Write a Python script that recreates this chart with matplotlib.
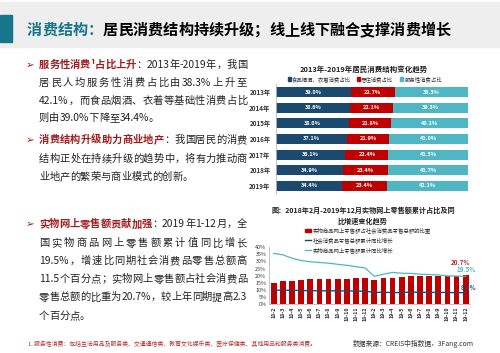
import re
import matplotlib
matplotlib.use("Agg")
import matplotlib.pyplot as plt
from matplotlib.patches import Rectangle
from matplotlib.lines import Line2D

plt.rcParams['font.family'] = ['Noto Sans CJK SC', 'DejaVu Sans']

# top chart data
years = ["2013年", "2014年", "2015年", "2016年", "2017年", "2018年", "2019年"]
food_share = [39.0, 38.6, 38.0, 37.1, 36.1, 34.9, 34.4]
housing_share = [22.7, 22.1, 21.8, 21.9, 22.4, 23.4, 23.4]
service_share = [38.3, 39.3, 40.2, 41.0, 41.5, 41.7, 42.1]
top_names = ["食品烟酒、衣着消费占比", "居住消费占比", "服务性消费占比"]

# bottom chart data
months = ["18-2", "18-3", "18-4", "18-5", "18-6", "18-7", "18-8", "18-9", "18-10",
          "18-11", "18-12", "19-2", "19-3", "19-4", "19-5", "19-6", "19-7", "19-8",
          "19-9", "19-10", "19-11", "19-12"]
online_share = [15.0, 16.0, 16.2, 16.7, 17.3, 17.3, 17.4, 17.5, 17.5, 18.0, 18.4,
                16.6, 18.0, 18.6, 18.8, 19.6, 19.5, 19.5, 19.7, 19.8, 19.9, 20.7]
retail_growth = [9.7, 9.8, 9.7, 9.5, 9.4, 9.3, 9.3, 9.3, 9.2, 9.1, 9.0,
                 8.2, 8.3, 8.0, 8.1, 8.4, 8.3, 8.2, 8.2, 8.1, 8.0, 8.0]
online_growth = [35.7, 34.7, 32.3, 30.7, 29.8, 29.3, 28.8, 28.0, 27.3, 26.3, 25.4,
                 19.5, 21.0, 22.3, 21.7, 21.6, 21.0, 20.8, 20.5, 19.8, 19.7, 19.5]
bottom_names = ["实物商品网上零售额占社会消费品零售总额的比重",
                "社会消费品零售总额累计同比增长",
                "实物商品网上零售额累计同比增长"]

W, H = 500, 353
dark_blue = "#1c4a6e"
red = "#c00000"
teal = "#4fb6c4"
dark_red = "#a01c1e"
txt = "#222222"

fig = plt.figure(figsize=(W / 100, H / 100), dpi=100)
renderer = fig.canvas.get_renderer()


def fx(x):
    return x / W


def fy(y):
    return 1 - y / H


def draw_line(segments, x0, x1, y, size, justify=True):
    toks = []
    for s, color, weight in segments:
        for piece in re.findall(r'[\x21-\x7e]+|.', s):
            toks.append((piece, color, weight))
    arts = [fig.text(0, fy(y), t, fontsize=size, color=c, fontweight=w, va="center")
            for t, c, w in toks]
    widths = [a.get_window_extent(renderer).width for a in arts]
    gap = (x1 - x0 - sum(widths)) / (len(arts) - 1) if justify and len(arts) > 1 else 0
    x = x0
    for a, w in zip(arts, widths):
        a.set_x(fx(x))
        x += w + gap


# header band
fig.add_artist(Rectangle((0, fy(47)), 1, 45 / H, transform=fig.transFigure,
                         color="#eeeeee", zorder=0))
fig.add_artist(Rectangle((0, fy(42)), 12 / W, 27 / H, transform=fig.transFigure,
                         color="#17768a", zorder=1))
draw_line([("消费结构：", "#17768a", "bold"),
           ("居民消费结构持续升级；线上线下融合支撑消费增长", "#000000", "bold")],
          27, 450, 30, 10.9, justify=False)

# left column text
body = 7.4
paragraphs = [
    [(65, [("服务性消费¹占比上升", dark_red, "bold"), ("：2013年-2019年，我国", txt, "normal")], True),
     (82.7, [("居民人均服务性消费占比由38.3%上升至", txt, "normal")], True),
     (100.7, [("42.1%，而食品烟酒、衣着等基础性消费占比", txt, "normal")], True),
     (118.3, [("则由39.0%下降至34.4%。", txt, "normal")], False)],
    [(140, [("消费结构升级助力商业地产", dark_red, "bold"), ("：我国居民的消费", txt, "normal")], True),
     (159, [("结构正处在持续升级的趋势中，将有力推动商", txt, "normal")], True),
     (176.7, [("业地产的繁荣与商业模式的创新。", txt, "normal")], False)],
    [(224.3, [("实物网上零售额贡献加强", dark_red, "bold"), ("：2019年1-12月，全", txt, "normal")], True),
     (243.3, [("国实物商品网上零售额累计值同比增长", txt, "normal")], True),
     (261, [("19.5%，增速比同期社会消费品零售总额高", txt, "normal")], True),
     (279.3, [("11.5个百分点；实物网上零售额占社会消费品", txt, "normal")], True),
     (297.3, [("零售总额的比重为20.7%，较上年同期提高2.3", txt, "normal")], True),
     (316, [("个百分点。", txt, "normal")], False)],
]
for para in paragraphs:
    fig.text(fx(30), fy(para[0][0]), "➢", fontsize=7.5, color=dark_red,
             family="DejaVu Sans", ha="center", va="center")
    for y, segs, just in para:
        draw_line(segs, 39, 247, y, body, just)

fig.text(fx(28), fy(344), "1. 服务性消费：包括生活用品及服务类、交通通信类、教育文化娱乐类、医疗保健类、其他用品和服务类消费。",
         fontsize=4.2, color="#b03030", va="center")
fig.text(fx(353), fy(344), "数据来源：CREIS中指数据，3Fang.com",
         fontsize=4.9, color="#333333", va="center")

# top chart
ax1 = fig.add_axes([fx(276), fy(193.5), 192.3 / W, 109 / H])
ypos = list(range(len(years)))
left = [0] * len(years)
for vals, col in zip([food_share, housing_share, service_share], [dark_blue, red, teal]):
    bars = ax1.barh(ypos, vals, left=left, height=0.64, color=col)
    for b, v in zip(bars, vals):
        ax1.text(b.get_x() + b.get_width() / 2, b.get_y() + b.get_height() / 2,
                 f"{v:.1f}%", color="white", fontsize=4, fontweight="bold",
                 ha="center", va="center")
    left = [l + v for l, v in zip(left, vals)]
ax1.set_xlim(0, 100)
ax1.set_ylim(len(years) - 0.5, -0.5)
ax1.set_yticks(ypos)
ax1.set_yticklabels(years, fontsize=4.5, fontweight="bold", color="#333333")
ax1.set_xticks([])
ax1.tick_params(axis="y", length=0, pad=4)
for s in ["top", "right", "bottom"]:
    ax1.spines[s].set_visible(False)
ax1.spines["left"].set_color("#bbbbbb")
ax1.spines["left"].set_linewidth(0.6)

fig.text(fx(364), fy(69), "2013年-2019年居民消费结构变化趋势", fontsize=5.4,
         fontweight="bold", color="#222222", ha="center", va="center")
for mx, name, col in zip([289.3, 358, 401.7], top_names, [dark_blue, red, teal]):
    fig.add_artist(Rectangle((fx(mx - 1.5), fy(80.5)), 3 / W, 3 / H,
                             transform=fig.transFigure, color=col))
    fig.text(fx(mx + 3), fy(79), name, fontsize=3.9, color="#333333", va="center")

# bottom chart
ax2 = fig.add_axes([fx(269.1), fy(304), 201.2 / W, 56.7 / H])
xpos = list(range(len(months)))
ax2.bar(xpos, online_share, width=0.62, color=red, zorder=2)
ax2.plot(xpos, retail_growth, color=dark_blue, lw=1.0, zorder=3)
ax2.plot(xpos, online_growth, color=teal, lw=0.9, zorder=3)
ax2.set_xlim(-0.5, len(months) - 0.5)
ax2.set_ylim(0, 40)
ax2.set_yticks(range(0, 41, 5))
ax2.set_yticklabels([f"{v}%" for v in range(0, 41, 5)], fontsize=3.9, color="#333333")
ax2.set_xticks(xpos)
ax2.set_xticklabels(months, rotation=90, fontsize=3.8, color="#333333", fontweight="bold")
ax2.tick_params(length=0, pad=2)
for s in ["top", "right"]:
    ax2.spines[s].set_visible(False)
for s in ["left", "bottom"]:
    ax2.spines[s].set_color("#bbbbbb")
    ax2.spines[s].set_linewidth(0.6)
ax2.patch.set_alpha(0)

last = len(months) - 1
ax2.annotate(f"{online_share[-1]:.1f}%", (last, online_share[-1]), xytext=(-3.4, 8.9),
             textcoords="offset points", ha="center", va="center", fontsize=4.5,
             fontweight="bold", color="#b02a2a")
ax2.annotate(f"{online_growth[-1]:.1f}%", (last, online_growth[-1]), xytext=(0, 4.6),
             textcoords="offset points", ha="center", va="center", fontsize=4.5,
             fontweight="bold", color=teal)
ax2.annotate(f"{retail_growth[-1]:.1f}%", (last, retail_growth[-1]), xytext=(2.4, 3.6),
             textcoords="offset points", ha="center", va="center", fontsize=4.5,
             fontweight="bold", color=dark_blue)

fig.text(fx(363), fy(210.7), "图：2018年2月-2019年12月实物网上零售额累计占比及同",
         fontsize=5.1, fontweight="bold", color="#222222", ha="center", va="center")
fig.text(fx(363), fy(221), "比增速变化趋势", fontsize=5.1, fontweight="bold",
         color="#222222", ha="center", va="center")
fig.add_artist(Rectangle((fx(305), fy(231.5)), 5.5 / W, 3 / H,
                         transform=fig.transFigure, color=red))
fig.add_artist(Line2D([fx(305), fx(311)], [fy(240.3), fy(240.3)], color=dark_blue, lw=1.0))
fig.add_artist(Line2D([fx(305), fx(311)], [fy(250), fy(250)], color=teal, lw=0.9))
for yy, name in zip([230.3, 240.3, 250], bottom_names):
    fig.text(fx(313), fy(yy), name, fontsize=3.9, color="#333333", va="center")

fig.savefig("out.png", dpi=100)
